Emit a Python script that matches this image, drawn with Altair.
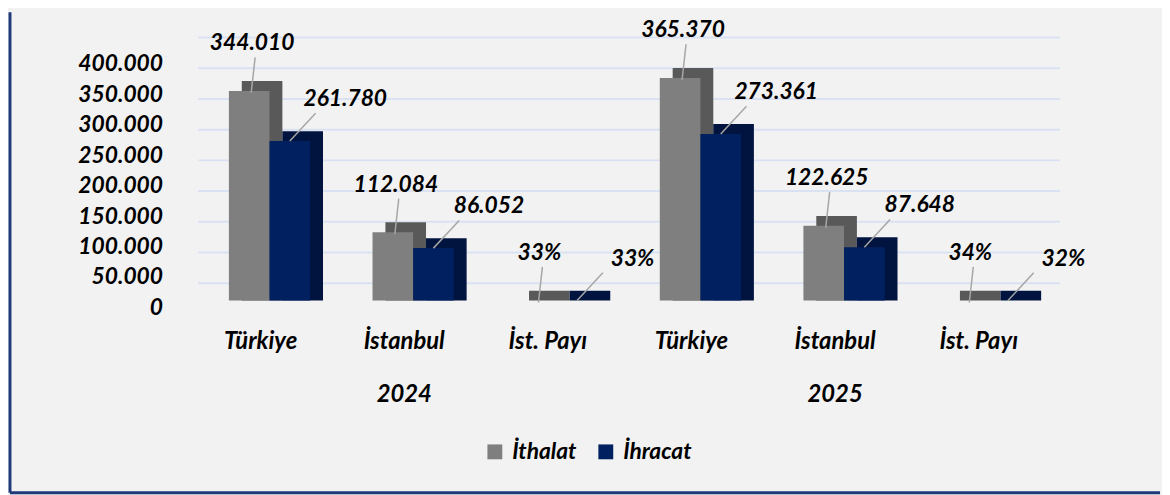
import altair as alt
import pandas as pd

# ---- data ----
years = ["2024", "2024", "2024", "2025", "2025", "2025"]
categories = ["Türkiye", "İstanbul", "İst. Payı", "Türkiye", "İstanbul", "İst. Payı"]
series = ["İthalat", "İhracat"]
ithalat = [344010, 112084, 0.33, 365370, 122625, 0.34]
ihracat = [261780, 86052, 0.33, 273361, 87648, 0.32]
y_ticks = [0, 50000, 100000, 150000, 200000, 250000, 300000, 350000, 400000]

front_colors = ["#7f7f7f", "#002060"]
side_colors = ["#595959", "#00143f"]
FONT = "Lato"
FS = 23

keys = [f"{c}|{y}" for c, y in zip(categories, years)]
rows = []
for s, vals in zip(series, [ithalat, ihracat]):
    for c, y, v in zip(categories, years, vals):
        rows.append({"key": f"{c}|{y}", "cat": c, "year": y, "series": s, "value": v})
df = pd.DataFrame(rows)

W, H = 1161, 485

X = alt.X(
    "key:N",
    sort=keys,
    scale=alt.Scale(domain=keys, range=[189.5, 1059.5], paddingInner=0, paddingOuter=0),
    axis=alt.Axis(
        title=None, orient="bottom", offset=-165, domain=False, ticks=False,
        labelPadding=0, labelAngle=0, labelBaseline="top", labelOverlap=False,
        labelOffset=-9,
        labelFont=FONT, labelFontSize=24, labelFontWeight="bold", labelFontStyle="italic",
        labelColor="black", labelLineHeight=54,
        labelExpr="indexof(datum.value, 'stanbul') >= 0 ? [slice(datum.value, 0, -5), slice(datum.value, -4)] : slice(datum.value, 0, -5)",
    ),
)

ymain_scale = alt.Scale(domain=[0, 400000], range=[291, 45], nice=False, zero=True)
Y_axis = alt.Y(
    "value:Q", stack=None, scale=ymain_scale,
    axis=alt.Axis(
        title=None, orient="left", offset=-154, values=y_ticks, grid=False, domain=False,
        ticks=False, labelPadding=0, labelOffset=7,
        labelFont=FONT, labelFontSize=FS, labelFontWeight="bold", labelFontStyle="italic",
        labelColor="black",
        labelExpr="replace(format(datum.value, ','), ',', '.')",
    ),
)
Y = alt.Y("value:Q", stack=None, scale=ymain_scale)

color = alt.Color(
    "series:N",
    scale=alt.Scale(domain=series, range=front_colors),
    legend=alt.Legend(
        orient="none", legendX=478, legendY=432, direction="horizontal", title=None,
        symbolType="square", symbolSize=225, symbolStrokeWidth=0, padding=0,
        labelFont=FONT, labelFontSize=FS, labelFontWeight="bold", labelFontStyle="italic",
        labelColor="black", labelOffset=6, columnPadding=18,
    ),
)

base = alt.Chart(df).transform_calculate(
    label="datum.cat == 'İst. Payı' ? format(datum.value, '.0%') : replace(format(datum.value, ','), ',', '.')"
)

# back-wall grid (independent y scale, shifted like the 3D back wall)
grid_layer = alt.Chart(df).mark_point(opacity=0).encode(
    x=X,
    y=alt.Y(
        "value:Q",
        scale=alt.Scale(domain=[0, 400000], range=[273, 25], nice=False),
        axis=alt.Axis(orient="left", grid=True, labels=False, ticks=False, domain=False,
                      values=y_ticks, gridColor="#d9e1f2", gridWidth=2, title=None),
    ),
)

layers = []
offs = {"İthalat": -20.5, "İhracat": 20.5}
label_dx = {"İthalat": 3, "İhracat": 56}
label_dy = {"İthalat": -48, "İhracat": -42}
lead = {"İthalat": (2, 2, 6, -34), "İhracat": (0, 0, 26, -28)}

for i, s in enumerate(series):
    sub = base.transform_filter(alt.datum.series == s)
    o = offs[s]
    side = sub.mark_bar(width=41, xOffset=o + 13, yOffset=-10, color=side_colors[i]).encode(
        x=X, y=Y_axis if i == 0 else Y
    )
    front = sub.mark_bar(width=41, xOffset=o).encode(x=X, y=Y, color=color)
    layers += [side, front]

for i, s in enumerate(series):
    sub = base.transform_filter(alt.datum.series == s)
    o = offs[s]
    lx, ly, lx2, ly2 = lead[s]
    leader = sub.mark_rule(
        color="#a6a6a6", strokeWidth=1.5,
        xOffset=o + lx, yOffset=ly, x2Offset=o + lx2, y2Offset=ly2,
    ).encode(x=X, x2=alt.X2("key:N"), y=Y, y2=alt.Y2("value:Q"))
    text = sub.mark_text(
        dx=o + label_dx[s], dy=label_dy[s], font=FONT, fontSize=FS, fontWeight="bold",
        fontStyle="italic", color="black", align="center", baseline="middle",
    ).encode(x=X, y=Y, text="label:N")
    layers += [leader, text]

frame_df = pd.DataFrame({"f": [0]})
left_border = alt.Chart(frame_df).mark_rule(color="#1f3a78", strokeWidth=3).encode(
    x=alt.value(0), y=alt.value(0), y2=alt.value(H)
)
bottom_border = alt.Chart(frame_df).mark_rule(color="#1f3a78", strokeWidth=3).encode(
    x=alt.value(0), x2=alt.value(W), y=alt.value(H), y2=alt.value(H)
)

inner = alt.layer(*layers, left_border, bottom_border)

chart = (
    alt.layer(grid_layer, inner)
    .resolve_scale(y="independent")
    .properties(width=W, height=H, padding=0, background="#f2f2f2")
    .configure_view(stroke=None)
)

chart.save("out.html", embed_options={"renderer": "svg", "actions": False})
